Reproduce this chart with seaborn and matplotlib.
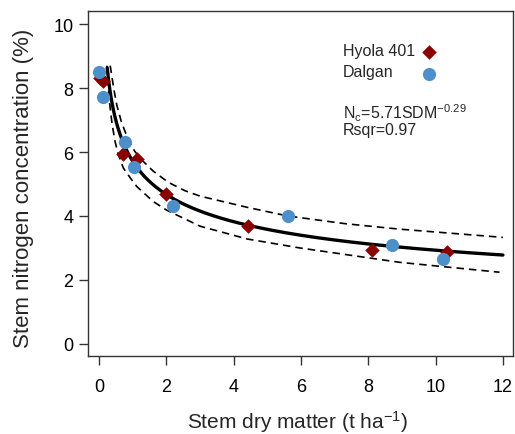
import numpy as np
import matplotlib
matplotlib.use("Agg")
import matplotlib.pyplot as plt
import seaborn as sns

# observed points, stem dry matter (t/ha) vs stem N (%)
hyola_sdm = [0.03, 0.13, 0.70, 1.14, 1.99, 4.41, 8.11, 10.34]
hyola_n = [8.33, 8.22, 5.95, 5.79, 4.69, 3.68, 2.92, 2.86]
dalgan_sdm = [0.01, 0.11, 0.77, 1.04, 2.21, 5.60, 8.69, 10.22]
dalgan_n = [8.50, 7.73, 6.31, 5.54, 4.30, 3.99, 3.10, 2.66]
cultivars = ["Hyola 401", "Dalgan"]

# dilution curve Nc = a * SDM^b
nc_a = 5.71
nc_b = -0.29
sdm_min, sdm_max = 0.24, 12.0

# dashed bounds
upper_sdm = [0.33, 0.44, 0.53, 0.66, 0.84, 1.06, 1.27, 1.61, 2.06, 2.55, 3.0, 4.4, 5.6, 7.3, 8.9, 12.0]
upper_n = [8.70, 7.95, 7.45, 6.95, 6.45, 6.02, 5.75, 5.40, 5.05, 4.79, 4.62, 4.27, 4.00, 3.76, 3.59, 3.33]
lower_sdm = [0.23, 0.27, 0.32, 0.39, 0.47, 0.56, 0.72, 0.92, 1.12, 1.61, 2.01, 3.0, 4.4, 5.96, 8.93, 11.9]
lower_n = [8.70, 8.05, 7.45, 6.85, 6.35, 5.95, 5.50, 5.20, 4.92, 4.45, 4.18, 3.68, 3.28, 3.00, 2.55, 2.24]

red = "#8B0000"
blue = "#4F8FC9"
grey = "#333333"

sns.set_style("ticks")
plt.rcParams["font.family"] = ["Liberation Sans", "DejaVu Sans"]
plt.rcParams["mathtext.default"] = "regular"

fig = plt.figure(figsize=(5.15, 4.35), dpi=100)
ax = fig.add_axes([88 / 515, 78 / 435, 425 / 515, 345 / 435])

sdm_fit = np.linspace(sdm_min, sdm_max, 300)
sns.lineplot(x=sdm_fit, y=nc_a * sdm_fit ** nc_b, color="black", linewidth=2.4, ax=ax)
sns.lineplot(x=upper_sdm, y=upper_n, color="black", linewidth=1.2, linestyle=(0, (4.5, 3)), ax=ax)
sns.lineplot(x=lower_sdm, y=lower_n, color="black", linewidth=1.2, linestyle=(0, (4.5, 3)), ax=ax)

sns.scatterplot(x=hyola_sdm, y=hyola_n, marker="D", s=55, color=red, linewidth=0,
                label=" ", ax=ax, zorder=3)
sns.scatterplot(x=dalgan_sdm, y=dalgan_n, marker="o", s=90, color=blue, linewidth=0,
                label=" ", ax=ax, zorder=4)

ax.set_xlim(-0.33, 12.3)
ax.set_ylim(-0.38, 10.41)
ax.set_xticks(range(0, 13, 2))
ax.set_yticks(range(0, 11, 2))
ax.tick_params(axis="both", length=6.5, width=1, color=grey, labelsize=13, labelcolor="black")
ax.tick_params(axis="x", pad=9)
ax.tick_params(axis="y", pad=4)
for sp in ax.spines.values():
    sp.set_visible(True)
    sp.set_color(grey)
    sp.set_linewidth(1)

ax.set_xlabel("Stem dry matter (t ha$^{-1}$)", fontsize=15)
ax.set_ylabel("Stem nitrogen concentration (%)", fontsize=16)
ax.xaxis.set_label_coords(0.494, -0.152)
ax.yaxis.set_label_coords(-0.128, 0.49)

# legend: markers only, labels written to their left
leg = ax.legend(loc="center", bbox_to_anchor=(431 / 515, 1 - 64 / 435),
                bbox_transform=fig.transFigure, frameon=False,
                fontsize=11.5, handlelength=1.0, handletextpad=0, labelspacing=0.45,
                borderpad=0, borderaxespad=0)
for i, name in enumerate(cultivars):
    ax.text(343 / 515, 1 - (52 + 21 * i) / 435, name, transform=fig.transFigure,
            fontsize=11.5, va="center", ha="left")

ax.text(343 / 515, 1 - 113 / 435, "N$_c$=5.71SDM$^{-0.29}$", transform=fig.transFigure,
        fontsize=11.5, va="center", ha="left")
ax.text(343 / 515, 1 - 131 / 435, "Rsqr=0.97", transform=fig.transFigure,
        fontsize=11.5, va="center", ha="left")

fig.savefig("out.png", dpi=100)
